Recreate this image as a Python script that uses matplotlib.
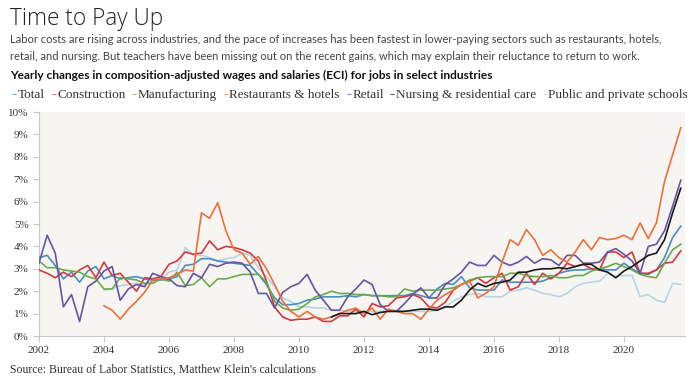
import numpy as np
import matplotlib
matplotlib.use("Agg")
import matplotlib.pyplot as plt

nan = np.nan
quarters = 2002 + np.arange(80) / 4.0

# yearly % change, quarterly, 2002Q1 - 2021Q4
total = [3.5, 3.6, 3.15, 2.55, 2.85, 2.4, 2.9, 3.1, 2.55, 2.7, 2.55, 2.6,
         2.65, 2.55, 2.5, 2.5, 2.55, 2.65, 3.15, 3.2, 3.45, 3.45, 3.35, 3.3,
         3.25, 3.2, 3.15, 2.75, 2.3, 1.7, 1.4, 1.4, 1.45, 1.6, 1.65, 1.75,
         1.75, 1.75, 1.8, 1.75, 1.85, 1.8, 1.8, 1.8, 1.8, 1.8, 1.9, 1.8,
         1.7, 2.1, 2.35, 2.3, 2.65, 2.15, 2.05, 2.05, 2.05, 2.5, 2.4, 2.4,
         2.4, 2.4, 2.45, 2.6, 2.8, 2.9, 2.95, 2.95, 3.0, 3.0, 2.95, 2.95,
         3.25, 3.0, 2.8, 2.75, 2.95, 3.5, 4.4, 4.9]
construction = [2.95, 2.8, 2.6, 2.85, 2.65, 2.95, 3.15, 2.6, 3.3, 2.7, 2.8, 2.4,
                2.0, 2.6, 2.55, 2.65, 3.2, 3.35, 3.75, 3.65, 3.7, 4.25, 3.85, 4.0,
                3.95, 3.85, 3.7, 3.35, 2.45, 1.3, 0.85, 0.7, 0.75, 0.75, 0.85, 0.65,
                0.65, 0.9, 0.9, 1.2, 0.85, 1.45, 1.3, 1.35, 1.7, 1.75, 1.85, 1.7,
                1.3, 1.25, 1.5, 2.05, 2.3, 2.45, 2.6, 2.35, 2.6, 2.8, 2.05, 2.2,
                2.8, 2.3, 2.8, 2.55, 2.8, 3.25, 3.1, 3.2, 3.0, 2.95, 3.75, 3.75,
                3.5, 3.75, 2.8, 2.8, 2.95, 3.25, 3.3, 3.8]
manufacturing = [3.35, 3.05, 3.05, 2.95, 2.9, 2.85, 2.65, 2.55, 2.1, 2.1, 2.6, 2.55,
                 2.5, 2.35, 2.35, 2.55, 2.45, 2.85, 2.25, 2.3, 2.6, 2.2, 2.55, 2.55,
                 2.65, 2.75, 2.75, 2.75, 2.4, 1.55, 1.25, 1.15, 1.2, 1.45, 1.75, 1.85,
                 2.0, 1.9, 1.9, 1.85, 1.85, 1.8, 1.8, 1.75, 1.75, 2.1, 2.0, 2.05,
                 2.05, 2.05, 2.1, 2.15, 2.3, 2.5, 2.6, 2.65, 2.65, 2.65, 2.8, 2.8,
                 2.7, 2.65, 2.65, 2.7, 2.6, 2.6, 2.7, 2.7, 2.9, 3.0, 3.1, 3.25,
                 3.1, 2.95, 2.75, 2.65, 2.6, 3.25, 3.85, 4.1]
restaurants = [nan] * 8 + [
    1.35, 1.15, 0.75, 1.2, 1.55, 1.95, 2.5, 2.55, 2.6, 2.75, 2.95, 2.9,
    5.5, 5.25, 5.95, 4.7, 3.85, 3.7, 3.2, 3.55, 3.0, 2.3, 1.55, 1.1,
    0.85, 1.1, 0.85, 0.75, 0.85, 1.0, 1.15, 1.25, 1.0, 1.25, 0.75, 1.2,
    1.1, 1.0, 1.0, 0.75, 1.2, 1.6, 1.85, 2.05, 2.3, 2.45, 1.7, 1.9,
    2.2, 3.3, 4.3, 4.05, 4.75, 4.3, 3.6, 3.85, 3.5, 3.3, 3.75, 4.3,
    3.85, 4.4, 4.3, 4.35, 4.5, 4.3, 5.05, 4.35, 5.05, 6.9, 8.1, 9.3]
retail = [3.25, 4.5, 3.7, 1.3, 1.85, 0.65, 2.2, 2.45, 2.9, 3.1, 1.6, 2.1,
          2.3, 2.2, 2.8, 2.65, 2.55, 2.25, 2.2, 2.8, 2.6, 3.2, 3.1, 3.25,
          3.3, 3.25, 2.85, 1.9, 1.9, 1.25, 1.95, 2.2, 2.35, 2.75, 2.05, 1.6,
          1.15, 1.15, 1.75, 2.1, 2.5, 2.3, 1.4, 1.1, 1.1, 1.45, 1.85, 2.15,
          1.7, 1.7, 2.3, 2.55, 2.85, 3.3, 3.15, 3.15, 3.6, 3.3, 3.15, 3.3,
          3.55, 3.25, 3.45, 3.4, 3.15, 3.6, 3.6, 3.25, 3.25, 3.3, 3.75, 3.9,
          3.65, 3.35, 2.8, 4.0, 4.1, 4.7, 5.8, 6.95]
nursing = [nan] * 36 + [
    0.85, 1.0, 1.0, 1.0, 1.1, 0.95, 1.05, 1.1, 1.1, 1.1, 1.15, 1.2,
    1.2, 1.15, 1.3, 1.3, 1.6, 2.05, 2.35, 2.2, 2.35, 2.4, 2.5, 2.85,
    2.85, 2.95, 3.0, 3.0, 3.05, 3.0, 3.1, 3.2, 3.2, 2.95, 2.85, 2.6,
    2.9, 3.1, 3.35, 3.6, 3.7, 4.3, 5.5, 6.6]
schools = [nan] * 8 + [
    2.05, 2.1, 2.25, 2.3, 2.35, 2.3, 2.45, 2.5, 2.85, 2.95, 3.95, 3.6,
    3.6, 3.5, 3.35, 3.45, 3.5, 3.7, 3.6, 3.05, 2.65, 2.2, 1.7, 1.55,
    1.3, 1.3, 1.25, 1.25, 1.15, 1.15, 1.1, 1.1, 1.1, 1.1, 1.1, 1.15,
    1.15, 1.1, 1.1, 1.1, 1.1, 1.15, 1.3, 1.55, 1.75, 1.85, 1.9, 1.75,
    1.75, 1.75, 2.0, 2.05, 2.15, 2.05, 1.9, 1.85, 1.75, 1.9, 2.2, 2.35,
    2.4, 2.45, 2.8, 2.65, 2.7, 2.7, 1.75, 1.85, 1.6, 1.5, 2.35, 2.3]

names = ['Total', 'Construction', 'Manufacturing', 'Restaurants & hotels', 'Retail',
         'Nursing & residential care', 'Public and private schools']
series = [total, construction, manufacturing, restaurants, retail, nursing, schools]
colors = ['#4a8dc0', '#d2383f', '#6aaa4f', '#ec7038', '#6653a3', '#1a1a1a', '#b7d4e4']

fig = plt.figure(figsize=(7, 3.84), dpi=100)
ax = fig.add_axes([39 / 700, 1 - 336 / 384, (685 - 39) / 700, (336 - 112) / 384])
ax.set_facecolor('#f6f5f2')

# schools drawn first so it sits underneath
order = [6, 0, 1, 2, 4, 3, 5]
for i in order:
    ax.plot(quarters, series[i], color=colors[i], lw=1.2, zorder=3 + order.index(i))

ax.set_xlim(2002, 2021.88)
ax.set_ylim(0, 10)
ax.set_xticks(range(2002, 2021, 2))
ax.set_yticks(range(0, 11))
ax.set_yticklabels(['%d%%' % v for v in range(0, 11)])
for s in ['top', 'right']:
    ax.spines[s].set_visible(False)
for s in ['left', 'bottom']:
    ax.spines[s].set_color('#c8c8c8')
    ax.spines[s].set_linewidth(0.8)
ax.tick_params(colors='#c8c8c8', length=4, width=0.8, labelcolor='#333333',
               labelsize=8)
for lab in ax.get_xticklabels() + ax.get_yticklabels():
    lab.set_family('Liberation Serif')

fig.text(10 / 700, 1 - 7 / 384, 'Time to Pay Up', fontsize=16.3, color='#222222',
         family='Open Sans', weight='light', va='top')
fig.text(10 / 700, 1 - 34 / 384,
         'Labor costs are rising across industries, and the pace of increases has been fastest in '
         'lower-paying sectors such as restaurants, hotels,\nretail, and nursing. But teachers have '
         'been missing out on the recent gains, which may explain their reluctance to return to work.',
         fontsize=8.0, color='#444444', family='Lato', va='top', linespacing=1.65)
fig.text(10 / 700, 1 - 70 / 384,
         'Yearly changes in composition-adjusted wages and salaries (ECI) for jobs in select industries',
         fontsize=8.6, color='#111111', family='Lato', weight='bold', va='top')

# legend row, spread to fill 12..688 px
fig.canvas.draw()
r = fig.canvas.get_renderer()
ly = 1 - 95 / 384
items = []
for name, c in zip(names, colors):
    d = fig.text(0, ly, '-', color=c, fontsize=11, weight='bold',
                 family='Liberation Serif', va='center')
    t = fig.text(0, ly, name, color='#333333', fontsize=9.5,
                 family='Liberation Serif', va='center')
    dw = d.get_window_extent(r).width
    tw = t.get_window_extent(r).width
    items.append((d, t, dw, tw))
used = sum(dw + 1 + tw for _, _, dw, tw in items)
gap = (688 - 12 - used) / (len(items) - 1)
x = 12
for d, t, dw, tw in items:
    d.set_x(x / 700)
    t.set_x((x + dw + 1) / 700)
    x += dw + 1 + tw + gap

fig.text(10 / 700, 1 - 370 / 384, "Source: Bureau of Labor Statistics, Matthew Klein's calculations",
         fontsize=8.5, color='#333333', family='Liberation Serif', va='center')

fig.savefig('out.png', dpi=100, facecolor='white')
